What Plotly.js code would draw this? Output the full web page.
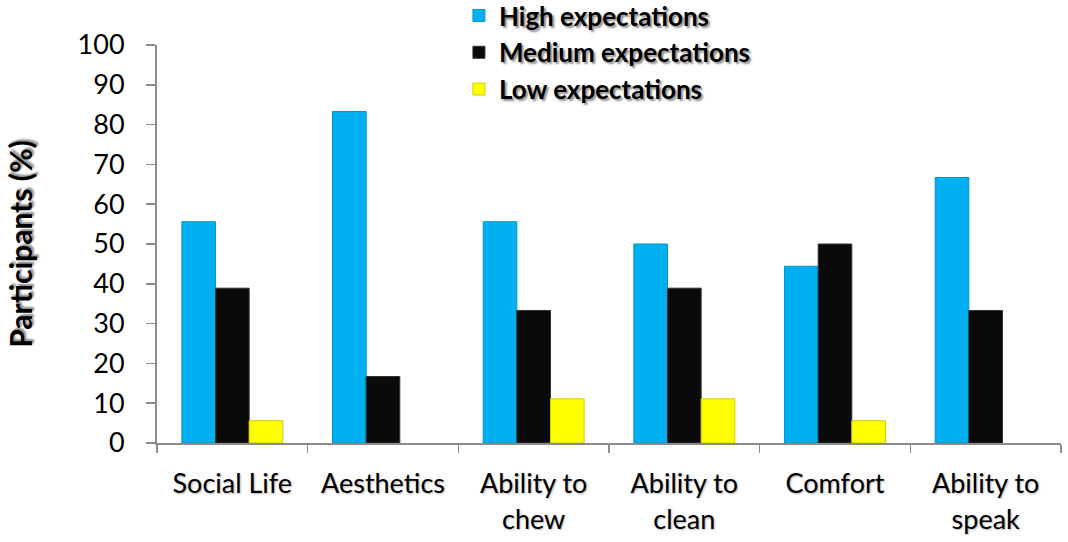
<!DOCTYPE html>
<html>
<head>
<meta charset="utf-8">
<script src="https://cdn.plot.ly/plotly-3.0.1.min.js"></script>
<style>
  html, body { margin: 0; padding: 0; background: #fff; }
  #chart { width: 1068px; height: 542px; }
</style>
</head>
<body>
<div id="chart"></div>
<script>
// Expectation areas (category axis)
const categories = ["Social Life", "Aesthetics", "Ability to<br>chew", "Ability to<br>clean", "Comfort", "Ability to<br>speak"];

// Share of participants (%) per expectation level
const highExpectations   = [55.6, 83.3, 55.6, 50.0, 44.4, 66.7];
const mediumExpectations = [38.9, 16.7, 33.3, 38.9, 50.0, 33.3];
const lowExpectations    = [5.6, 0, 11.1, 11.1, 5.6, 0];

const seriesNames  = ["High expectations", "Medium expectations", "Low expectations"];
const seriesColors = ["#00B0F0", "#0A0A0A", "#FFFF00"];
const seriesEdges  = ["#0396C9", "#333333", "#CFCF00"];
const seriesValues = [highExpectations, mediumExpectations, lowExpectations];

const baseFont = "Lato, 'Open Sans', 'DejaVu Sans', sans-serif";
const boldShadow = "2px 2px 2px rgba(0,0,0,0.45)";
const softShadow = "1px 1px 2px rgba(0,0,0,0.3)";

const traces = seriesValues.map((vals, i) => ({
  type: "bar",
  name: seriesNames[i],
  x: categories,
  y: vals,
  marker: {
    color: seriesColors[i],
    // outline only bars that actually have height
    line: { color: seriesEdges[i], width: vals.map(v => (v > 0 ? 1 : 0)) }
  },
  hoverinfo: "skip"
}));

const layout = {
  width: 1068,
  height: 542,
  margin: { l: 157, r: 7, t: 45, b: 99, autoexpand: false },
  paper_bgcolor: "#ffffff",
  plot_bgcolor: "#ffffff",
  barmode: "group",
  bargap: 0.33,
  bargroupgap: 0,
  font: { family: baseFont, size: 27, color: "#000" },
  xaxis: {
    type: "category",
    showgrid: false,
    showline: true,
    linecolor: "#8c8c8c",
    linewidth: 2,
    ticks: "outside",
    tickson: "boundaries",
    ticklen: 8,
    tickcolor: "#8c8c8c",
    tickwidth: 1.5,
    tickangle: 0,
    ticklabelstandoff: 16,
    tickfont: { family: baseFont, size: 27, color: "#000", shadow: softShadow },
    zeroline: false,
    automargin: false
  },
  yaxis: {
    range: [0, 100],
    dtick: 10,
    showgrid: false,
    showline: true,
    linecolor: "#8c8c8c",
    linewidth: 2,
    ticks: "outside",
    ticklen: 9,
    tickcolor: "#8c8c8c",
    tickwidth: 1.5,
    ticklabelstandoff: 16,
    tickfont: { family: baseFont, size: 27, color: "#000" },
    zeroline: false,
    automargin: false,
    title: {
      text: "<b>Participants (%)</b>",
      font: { family: baseFont, size: 30, color: "#000", shadow: boldShadow },
      standoff: 36
    }
  },
  legend: {
    x: 0.334,
    y: 1.133,
    xanchor: "left",
    yanchor: "top",
    bgcolor: "rgba(0,0,0,0)",
    font: { family: baseFont, size: 26, color: "#000", weight: "bold", shadow: boldShadow },
    itemclick: false,
    itemdoubleclick: false
  },
  showlegend: true
};

Plotly.newPlot("chart", traces, layout, { displayModeBar: false, staticPlot: true });
</script>
</body>
</html>
